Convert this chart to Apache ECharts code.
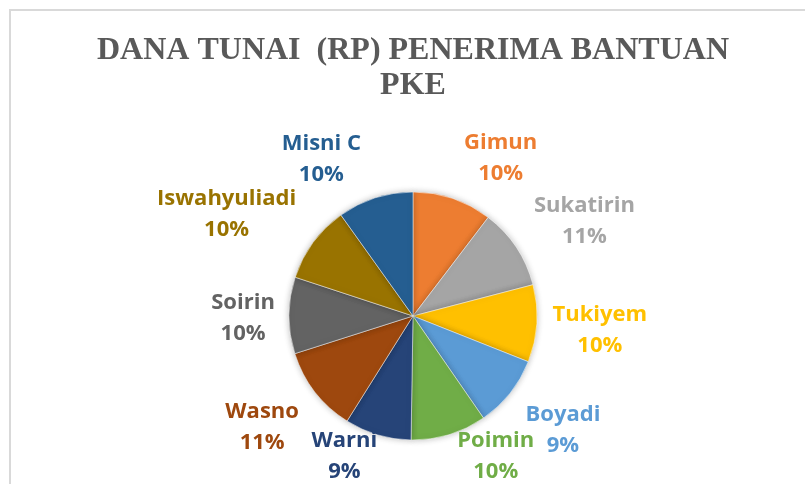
<!DOCTYPE html>
<html>
	<head>
		<meta charset="UTF-8">
		<title>Dana Tunai PKE</title>
		<script src="https://cdn.jsdelivr.net/npm/echarts@6/dist/echarts.min.js"></script>
		<style type="text/css">
			html,
			body {
				margin: 0;
				padding: 0;
				background: #fff;
			}
			
			#chart {
				width: 805px;
				height: 484px;
			}
		</style>
	</head>

	<body>
		<div id="chart"></div>
	</body>
	<script type="text/javascript">
		//penerima dan dana (ribu rupiah), urut searah jarum jam dari atas
		var names = ["Gimun", "Sukatirin", "Tukiyem", "Boyadi", "Poimin", "Warni", "Wasno", "Soirin", "Iswahyuliadi", "Misni C"];
		var values = [1040, 1060, 1010, 940, 990, 870, 1120, 1000, 1010, 990];
		var colors = ["#ED7D31", "#A5A5A5", "#FFC000", "#5B9BD5", "#70AD47", "#264478", "#9E480E", "#636363", "#997300", "#255E91"];
		//geser sudut label (derajat), seperti excel
		var labelNudge = [10, 4, 0, -2, -10, 6, 2, 0, -7, -12];

		var W = 805,
			H = 484;
		var PIE_CX = 413,
			PIE_CY = 316,
			PIE_R = 124,
			GAP = 14;

		var total = 0;
		for(var i = 0; i < values.length; i++) total += values[i];
		var midAngles = [];
		var acc = 0;
		for(var i = 0; i < values.length; i++) {
			midAngles.push((acc + values[i] / 2) / total * 360);
			acc += values[i];
		}

		var data = [];
		for(var i = 0; i < names.length; i++) {
			data.push({
				name: names[i],
				value: values[i],
				itemStyle: {
					color: colors[i]
				},
				label: {
					color: colors[i]
				}
			});
		}

		var chart = echarts.init(document.getElementById('chart'));
		var option = {
			animation: false,
			backgroundColor: '#fff',
			graphic: [{
				type: 'rect',
				shape: {
					x: 10,
					y: 10,
					width: 805,
					height: 484
				},
				style: {
					fill: 'none',
					stroke: '#d9d9d9',
					lineWidth: 2
				},
				silent: true
			}],
			title: {
				text: 'DANA TUNAI  (RP) PENERIMA BANTUAN\nPKE',
				left: 408,
				top: 28,
				textAlign: 'center',
				textStyle: {
					fontFamily: '"Liberation Serif", "Times New Roman", serif',
					fontWeight: 'bold',
					fontSize: 32,
					lineHeight: 35,
					color: '#595959'
				}
			},
			series: [{
				type: 'pie',
				center: [PIE_CX, PIE_CY],
				radius: PIE_R,
				startAngle: 90,
				clockwise: true,
				data: data,
				itemStyle: {
					borderColor: '#fff',
					borderWidth: 0.5,
					shadowBlur: 6,
					shadowColor: 'rgba(0,0,0,0.25)'
				},
				label: {
					show: true,
					position: 'outside',
					fontFamily: '"Open Sans", sans-serif',
					fontWeight: 'bold',
					fontSize: 22,
					lineHeight: 31,
					align: 'center',
					formatter: function(p) {
						return p.name + '\n' + Math.round(p.percent) + '%';
					}
				},
				labelLine: {
					show: false
				},
				labelLayout: function(p) {
					var i = p.dataIndex;
					var a = (midAngles[i] + labelNudge[i]) * Math.PI / 180;
					var ux = Math.sin(a),
						uy = -Math.cos(a);
					var w = p.labelRect.width,
						h = p.labelRect.height;
					var d = PIE_R + GAP + Math.abs(ux) * w / 2 + Math.abs(uy) * h / 2;
					var x = PIE_CX + ux * d;
					var y = PIE_CY + uy * d + 3;
					y = Math.min(y, H + 3 - h / 2);
					return {
						x: x,
						y: y,
						align: 'center',
						verticalAlign: 'middle'
					};
				}
			}]
		};
		chart.setOption(option);
	</script>
</html>
